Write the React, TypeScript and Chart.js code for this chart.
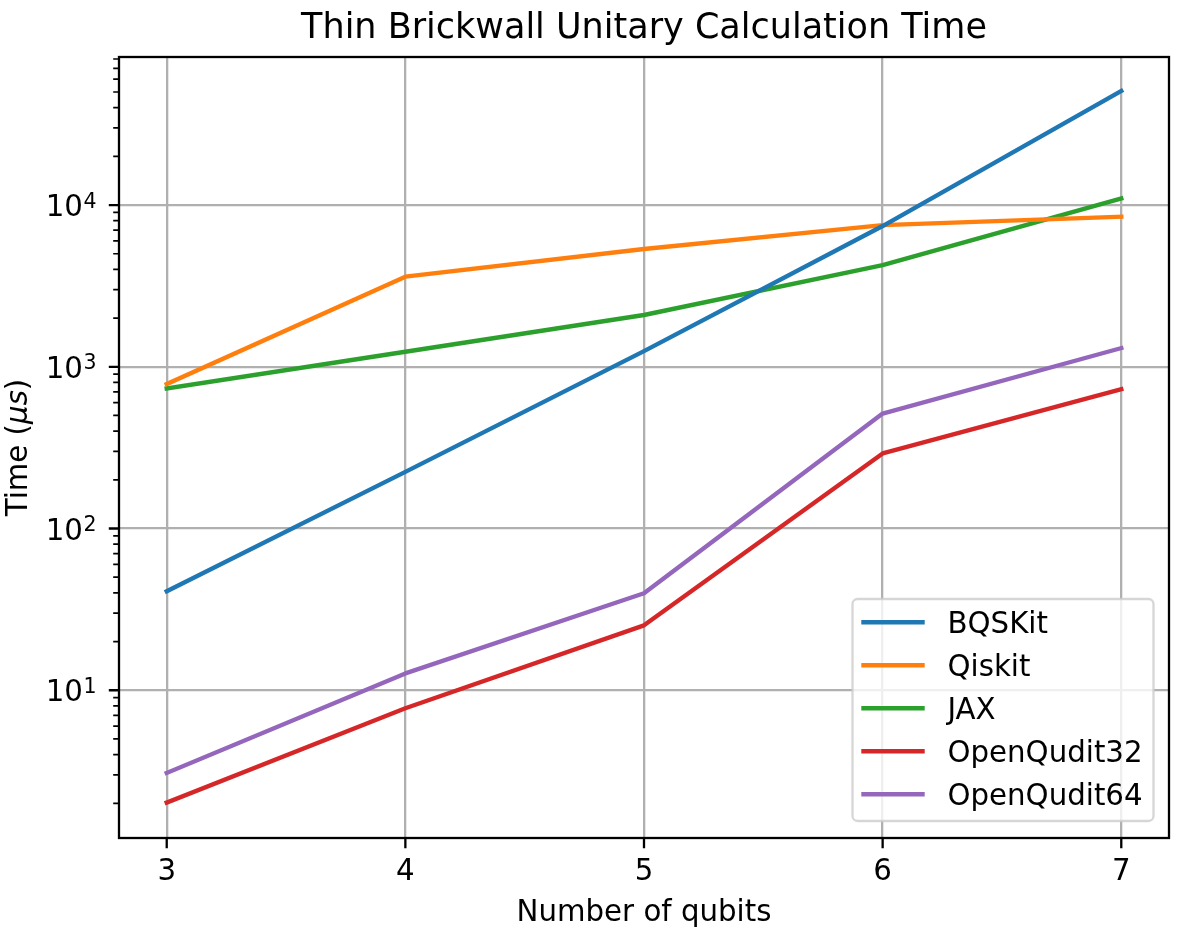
import React, { useEffect, useRef } from 'react';
import { Chart, registerables } from 'chart.js';

Chart.register(...registerables);

const qubits = [3, 4, 5, 6, 7];
const seriesNames = ['BQSKit', 'Qiskit', 'JAX', 'OpenQudit32', 'OpenQudit64'];
const bqskit = [40.9, 224, 1250, 7413, 50700];
const qiskit = [782, 3607, 5346, 7516, 8470];
const jax = [735, 1238, 2090, 4254, 11000];
const openQudit32 = [2.02, 7.74, 25.2, 291, 728];
const openQudit64 = [3.08, 12.7, 39.8, 514, 1305];
const seriesColors = ['#1f77b4', '#ff7f0e', '#2ca02c', '#d62728', '#9467bd'];
const xTicks = [3, 4, 5, 6, 7];
const yTicks = [10, 100, 1000, 10000];
const yTickExponents = ['1', '2', '3', '4'];
const titleText = 'Thin Brickwall Unitary Calculation Time';
const xTitle = 'Number of qubits';
const yTitleParts = ['Time (', 'μs', ')'];

const FONT = '"DejaVu Sans", "Liberation Sans", sans-serif';

const decorPlugin = {
  id: 'mplDecor',
  afterDraw(chart: any) {
    const { ctx, chartArea: ca, scales } = chart;
    const xs = scales.x;
    const ys = scales.y;
    ctx.save();

    // spines
    ctx.strokeStyle = '#000';
    ctx.lineWidth = 2.3;
    ctx.lineJoin = 'miter';
    ctx.strokeRect(ca.left, ca.top, ca.right - ca.left, ca.bottom - ca.top);

    // major ticks
    ctx.lineCap = 'butt';
    ctx.beginPath();
    xTicks.forEach((v) => {
      const px = xs.getPixelForValue(v);
      ctx.moveTo(px, ca.bottom);
      ctx.lineTo(px, ca.bottom + 10.2);
    });
    yTicks.forEach((v) => {
      const py = ys.getPixelForValue(v);
      ctx.moveTo(ca.left - 10.2, py);
      ctx.lineTo(ca.left, py);
    });
    ctx.stroke();

    // minor ticks (log)
    ctx.lineWidth = 1.7;
    ctx.beginPath();
    for (let k = -1; k <= 5; k++) {
      for (let m = 2; m <= 9; m++) {
        const v = m * Math.pow(10, k);
        if (v < ys.min || v > ys.max) continue;
        const py = ys.getPixelForValue(v);
        ctx.moveTo(ca.left - 5.8, py);
        ctx.lineTo(ca.left, py);
      }
    }
    ctx.stroke();

    ctx.fillStyle = '#000';
    // x tick labels
    ctx.font = `29.25px ${FONT}`;
    ctx.textAlign = 'center';
    ctx.textBaseline = 'alphabetic';
    xTicks.forEach((v) => {
      ctx.fillText(String(v), xs.getPixelForValue(v), ca.bottom + 42);
    });

    // y tick labels (10^n)
    ctx.textAlign = 'left';
    yTicks.forEach((v, i) => {
      const py = ys.getPixelForValue(v);
      ctx.font = `29.25px ${FONT}`;
      const w10 = ctx.measureText('10').width;
      ctx.font = `20.5px ${FONT}`;
      const wsup = ctx.measureText(yTickExponents[i]).width;
      const x0 = ca.left - 23 - wsup - w10;
      ctx.font = `29.25px ${FONT}`;
      ctx.fillText('10', x0, py + 11);
      ctx.font = `20.5px ${FONT}`;
      ctx.fillText(yTickExponents[i], x0 + w10 + 0.5, py + 2.5);
    });

    // x axis title
    ctx.font = `29.25px ${FONT}`;
    ctx.textAlign = 'center';
    ctx.fillText(xTitle, (ca.left + ca.right) / 2, 921);

    // y axis title
    ctx.save();
    ctx.translate(26.5, (ca.top + ca.bottom) / 2);
    ctx.rotate(-Math.PI / 2);
    ctx.textAlign = 'left';
    const fonts = [`29.25px ${FONT}`, `italic 29.25px ${FONT}`, `29.25px ${FONT}`];
    let total = 0;
    const widths = yTitleParts.map((p, i) => {
      ctx.font = fonts[i];
      const w = ctx.measureText(p).width;
      total += w;
      return w;
    });
    let cx = -total / 2;
    yTitleParts.forEach((p, i) => {
      ctx.font = fonts[i];
      ctx.fillText(p, cx, 0);
      cx += widths[i];
    });
    ctx.restore();

    // title
    ctx.font = `35px ${FONT}`;
    ctx.textAlign = 'center';
    ctx.fillText(titleText, (ca.left + ca.right) / 2, 37.7);

    // legend
    const lx = ca.right - 316.5;
    const ly = ca.bottom - 239;
    const lw = 301;
    const lh = 222;
    ctx.beginPath();
    (ctx as any).roundRect(lx, ly, lw, lh, 5);
    ctx.fillStyle = 'rgba(255,255,255,0.8)';
    ctx.fill();
    ctx.strokeStyle = 'rgba(204,204,204,0.8)';
    ctx.lineWidth = 2.3;
    ctx.stroke();

    chart.data.datasets.forEach((ds: any, i: number) => {
      const y = ly + 23.3 + i * 43;
      ctx.beginPath();
      ctx.strokeStyle = ds.borderColor;
      ctx.lineWidth = 4.4;
      ctx.lineCap = 'square';
      ctx.moveTo(lx + 11, y);
      ctx.lineTo(lx + 70, y);
      ctx.stroke();
      ctx.fillStyle = '#000';
      ctx.font = `29.25px ${FONT}`;
      ctx.textAlign = 'left';
      ctx.fillText(ds.label, lx + 95, y + 10.5);
    });

    ctx.restore();
  },
};

export default function App() {
  const canvasRef = useRef<HTMLCanvasElement | null>(null);

  useEffect(() => {
    const canvas = canvasRef.current;
    if (!canvas) return;
    const seriesValues = [bqskit, qiskit, jax, openQudit32, openQudit64];
    const chart = new Chart(canvas, {
      type: 'line',
      data: {
        datasets: seriesNames.map((name, i) => ({
          label: name,
          data: qubits.map((q, j) => ({ x: q, y: seriesValues[i][j] })),
          borderColor: seriesColors[i],
          backgroundColor: seriesColors[i],
          borderWidth: 4.4,
          pointRadius: 0,
          pointHoverRadius: 0,
          tension: 0,
          borderCapStyle: 'square',
          borderJoinStyle: 'round',
          fill: false,
        })),
      },
      options: {
        responsive: false,
        animation: false,
        devicePixelRatio: 1,
        events: [],
        layout: { padding: { left: 0, right: 27, top: 57, bottom: 0 } },
        plugins: {
          legend: { display: false },
          title: { display: false },
          tooltip: { enabled: false },
        },
        scales: {
          x: {
            type: 'linear',
            min: 2.8,
            max: 7.2,
            afterBuildTicks: (s: any) => {
              s.ticks = xTicks.map((v) => ({ value: v }));
            },
            afterFit: (s: any) => {
              s.height = 103;
            },
            ticks: { display: false },
            grid: { color: '#b0b0b0', lineWidth: 2.3, drawTicks: false },
            border: { display: false },
          },
          y: {
            type: 'logarithmic',
            min: 1.22,
            max: 82300,
            afterBuildTicks: (s: any) => {
              s.ticks = yTicks.map((v) => ({ value: v }));
            },
            afterFit: (s: any) => {
              s.width = 119;
            },
            ticks: { display: false },
            grid: { color: '#b0b0b0', lineWidth: 2.3, drawTicks: false },
            border: { display: false },
          },
        },
      } as any,
      plugins: [decorPlugin],
    });
    return () => chart.destroy();
  }, []);

  return (
    <div style={{ position: 'absolute', left: 0, top: 0, width: 1196, height: 941, background: '#fff' }}>
      <canvas ref={canvasRef} width={1196} height={941} style={{ display: 'block', width: 1196, height: 941 }} />
    </div>
  );
}
